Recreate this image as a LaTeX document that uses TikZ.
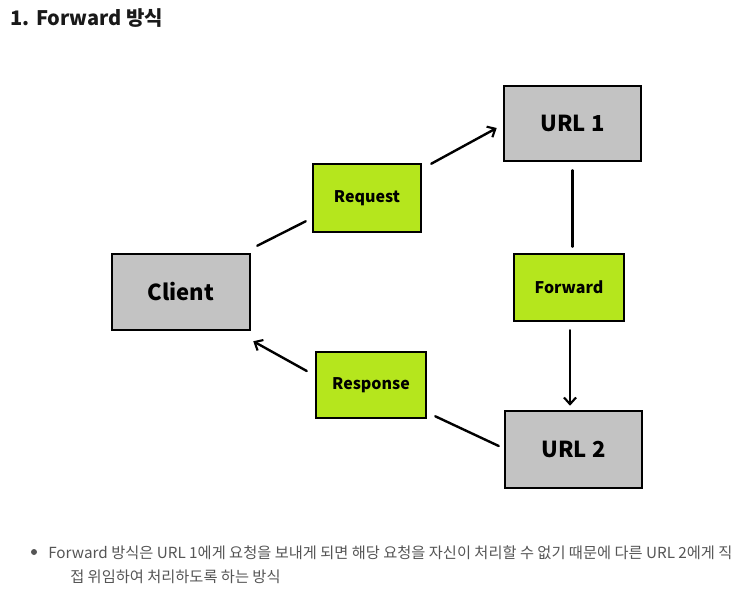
\documentclass[tikz,border=0pt]{standalone}
\usepackage{fontspec}
\setmainfont{Noto Sans CJK KR}
\usetikzlibrary{arrows.meta,calc}
\definecolor{boxgray}{HTML}{C3C3C3}
\definecolor{boxgreen}{HTML}{B5E61D}
\definecolor{txtgray}{HTML}{555555}
\tikzset{
  box/.style={draw=black, line width=1.9pt, inner sep=0pt, font=\bfseries},
  graybox/.style={box, fill=boxgray, font=\fontsize{16.5pt}{18pt}\selectfont\bfseries},
  greenbox/.style={box, fill=boxgreen, font=\fontsize{12pt}{14pt}\selectfont\bfseries},
  conn/.style={line width=1.8pt, line cap=round},
  arr/.style={conn, -{Straight Barb[length=5pt, width=9pt, line width=1.6pt]}},
  bodytext/.style={anchor=base west, font=\fontsize{11.45pt}{13pt}\selectfont, text=txtgray, inner sep=0pt}
}
\begin{document}
\begin{tikzpicture}[x=0.75pt, y=-0.75pt]
\useasboundingbox (0,0) rectangle (745,592);
\node[anchor=base west, font=\fontsize{15pt}{18pt}\selectfont\bfseries, text=black!90] (title) at (6,26) {1. Forward 방식};

\node[graybox, minimum width=138*0.75pt, minimum height=76*0.75pt] (cl) at (181,292) {Client};
\node[graybox, minimum width=137*0.75pt, minimum height=75*0.75pt] (u1) at (572.5,123.5) {URL 1};
\node[graybox, minimum width=137*0.75pt, minimum height=77*0.75pt] (u2) at (573.5,449.5) {URL 2};
\node[greenbox, minimum width=108*0.75pt, minimum height=68*0.75pt] (req) at (367,198) {Request};
\node[greenbox, minimum width=110*0.75pt, minimum height=66*0.75pt] (resp) at (371,385) {Response};
\node[greenbox, minimum width=110*0.75pt, minimum height=67*0.75pt] (fw) at (569,287.5) {Forward};

\draw[conn] ($(cl.north east)+(6,-7)$) -- ($(req.south west)+(-6,-12)$);
\draw[arr] ($(req.north east)+(9,1)$) -- ($(u1.west)+(-6,4.5)$);
\draw[conn] ($(u1.south)+(0,8)$) -- ($(u1.south |- fw.north)+(0,-6)$);
\draw[arr] ($(fw.south)+(1,8)$) -- ($(fw.south |- u2.north)+(1,-4)$);
\draw[conn] ($(u2.west)+(-5,-3.5)$) -- ($(resp.south east)+(8,-3)$);
\draw[arr] ($(resp.west)+(-8,-14)$) -- ($(cl.south east)+(2,10)$);

\fill[txtgray] (34,552) circle (3);
\node[bodytext] (l1) at (48,558) {Forward 방식은 URL 1에게 요청을 보내게 되면 해당 요청을 자신이 처리할 수 없기 때문에 다른 URL 2에게 직};
\node[bodytext] (l2) at (70,582) {접 위임하여 처리하도록 하는 방식};
\end{tikzpicture}
\end{document}
